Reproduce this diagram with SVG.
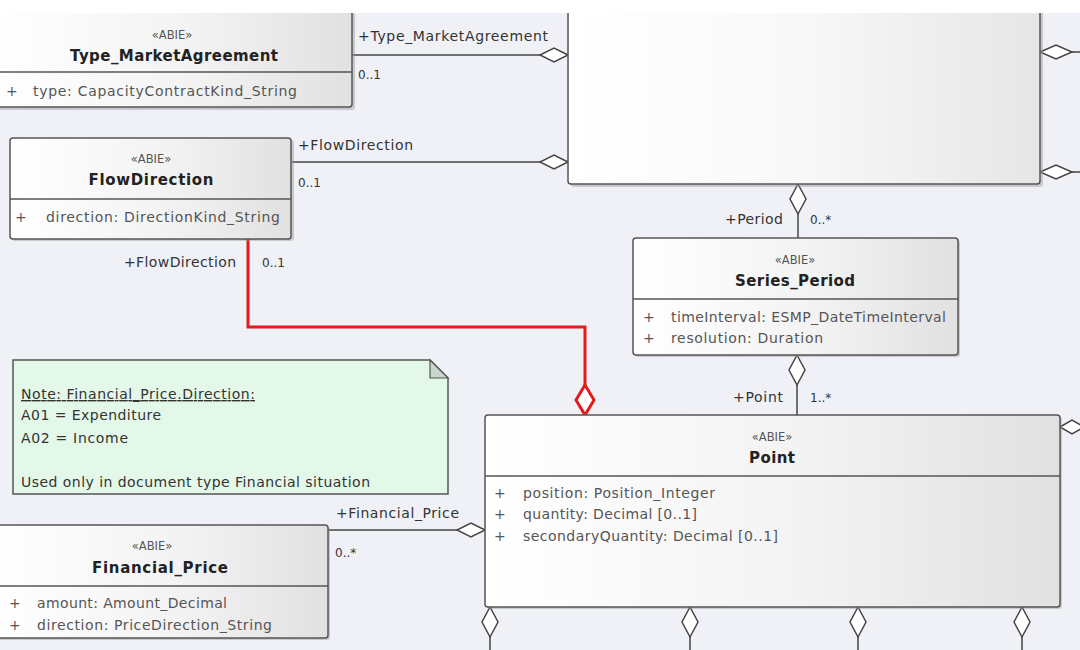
<svg xmlns="http://www.w3.org/2000/svg" width="1080" height="650" viewBox="0 0 1080 650">
<defs>
<linearGradient id="hdr" x1="0" y1="0" x2="1" y2="0">
<stop offset="0" stop-color="#FFFFFF"/>
<stop offset="0.55" stop-color="#F3F3F3"/>
<stop offset="1" stop-color="#E1E1E1"/>
</linearGradient>
<linearGradient id="big" x1="0" y1="0" x2="1" y2="0">
<stop offset="0" stop-color="#FFFFFF"/>
<stop offset="0.5" stop-color="#F8F8F8"/>
<stop offset="1" stop-color="#E6E6E6"/>
</linearGradient>
<style>
.bg{fill:#EFF1F7}
.box{fill:url(#hdr);stroke:#555;stroke-width:1.5}
.shadow{fill:#9a9a9a;opacity:0.45}
.div{stroke:#555;stroke-width:1.5}
.st{font-family:"DejaVu Sans",Verdana,sans-serif;font-size:11.5px;fill:#555;text-anchor:middle}
.nm{font-family:"DejaVu Sans",Verdana,sans-serif;font-size:15px;font-weight:bold;fill:#222;text-anchor:middle}
.at{font-family:"DejaVu Sans",Verdana,sans-serif;font-size:14px;fill:#555}
.lb{font-family:"DejaVu Sans",Verdana,sans-serif;font-size:14px;fill:#333}
.mu{font-family:"DejaVu Sans",Verdana,sans-serif;font-size:12px;fill:#333}
.nt{font-family:"DejaVu Sans",Verdana,sans-serif;font-size:14px;fill:#333}
.ln{fill:none;stroke:#444;stroke-width:1.5}
.dm{fill:#FFFFFF;stroke:#444;stroke-width:1.5}
.red{fill:none;stroke:#E31B1B;stroke-width:3}
.reddm{fill:#FFFFFF;stroke:#E31B1B;stroke-width:3}
</style>
</defs>
<rect class="bg" x="0" y="0" width="1080" height="650"/>

<g id="connectors">
<path class="ln" d="M352,55 H540"/>
<polygon class="dm" points="568,55 554,48 540,55 554,62"/>
<text class="lb" x="358" y="41" textLength="190">+Type_MarketAgreement</text>
<text class="mu" x="358" y="79">0..1</text>

<path class="ln" d="M292,162 H540"/>
<polygon class="dm" points="568,162 554,155 540,162 554,169"/>
<text class="lb" x="298" y="150" textLength="115">+FlowDirection</text>
<text class="mu" x="298" y="187">0..1</text>

<path class="ln" d="M1072,52 H1080"/>
<polygon class="dm" points="1040,52 1056,45 1072,52 1056,59"/>
<path class="ln" d="M1072,172 H1080"/>
<polygon class="dm" points="1040,172 1056,165 1072,172 1056,179"/>

<path class="ln" d="M798,214 V238"/>
<polygon class="dm" points="798,184 806,199 798,214 790,199"/>
<text class="lb" x="783" y="224" text-anchor="end" textLength="58">+Period</text>
<text class="mu" x="810" y="224">0..*</text>

<path class="ln" d="M797,385 V415"/>
<polygon class="dm" points="797,355 805,370 797,385 789,370"/>
<text class="lb" x="783" y="402" text-anchor="end" textLength="50">+Point</text>
<text class="mu" x="810" y="402">1..*</text>

<path class="red" d="M248,239 V327 H585 V385"/>
<polygon class="reddm" points="585,385 594,400 585,415 576,400"/>
<text class="lb" x="236" y="267" text-anchor="end" textLength="112">+FlowDirection</text>
<text class="mu" x="262" y="267">0..1</text>

<path class="ln" d="M328,530 H457"/>
<polygon class="dm" points="485,530 471,523 457,530 471,537"/>
<text class="lb" x="336" y="518" textLength="123">+Financial_Price</text>
<text class="mu" x="335" y="557">0..*</text>

<polygon class="dm" points="1060,427 1072,420 1084,427 1072,434"/>

<path class="ln" d="M490,637 V650 M690,637 V650 M858,637 V650 M1022,637 V650"/>
<polygon class="dm" points="490,607 498,622 490,637 482,622"/>
<polygon class="dm" points="690,607 698,622 690,637 682,622"/>
<polygon class="dm" points="858,607 866,622 858,637 850,622"/>
<polygon class="dm" points="1022,607 1030,622 1022,637 1014,622"/>
</g>

<g id="node-top-class">
<rect class="shadow" x="571" y="-8" width="472" height="195" rx="3"/>
<rect x="568" y="-10" width="472" height="194" rx="3" fill="url(#big)" stroke="#555" stroke-width="1.5"/>
</g>

<g id="node-type-marketagreement">
<rect class="shadow" x="-6" y="12" width="361" height="98" rx="3"/>
<rect class="box" x="-8" y="10" width="360" height="97" rx="3"/>
<line class="div" x1="-8" y1="72" x2="352" y2="72"/>
<text class="st" x="172" y="39">«ABIE»</text>
<text class="nm" x="174" y="61" textLength="208">Type_MarketAgreement</text>
<text class="at" x="6" y="96">+</text>
<text class="at" x="33" y="96" textLength="264">type: CapacityContractKind_String</text>
</g>

<g id="node-flowdirection">
<rect class="shadow" x="12" y="140" width="282" height="101" rx="3"/>
<rect class="box" x="10" y="138" width="281" height="101" rx="3"/>
<line class="div" x1="10" y1="199" x2="291" y2="199"/>
<text class="st" x="151" y="163">«ABIE»</text>
<text class="nm" x="151" y="185" textLength="125">FlowDirection</text>
<text class="at" x="15" y="222">+</text>
<text class="at" x="46" y="222" textLength="234">direction: DirectionKind_String</text>
</g>

<g id="node-series-period">
<rect class="shadow" x="635" y="240" width="325" height="117" rx="3"/>
<rect class="box" x="633" y="238" width="325" height="117" rx="3"/>
<line class="div" x1="633" y1="299" x2="958" y2="299"/>
<text class="st" x="795" y="264">«ABIE»</text>
<text class="nm" x="795" y="286" textLength="120">Series_Period</text>
<text class="at" x="643" y="322">+</text>
<text class="at" x="671" y="322" textLength="275">timeInterval: ESMP_DateTimeInterval</text>
<text class="at" x="643" y="343">+</text>
<text class="at" x="671" y="343" textLength="152">resolution: Duration</text>
</g>

<g id="node-note">
<path d="M13,360 H430 L448,378 V494 H13 Z" fill="#E4F8EA" stroke="#555" stroke-width="1.5"/>
<path d="M430,360 V378 H448 Z" fill="#C9D6CE" stroke="#555" stroke-width="1.2"/>
<text class="nt" x="21" y="399" textLength="234" text-decoration="underline">Note: Financial_Price.Direction:</text>
<text class="nt" x="21" y="420" textLength="140">A01 = Expenditure</text>
<text class="nt" x="21" y="443" textLength="107">A02 = Income</text>
<text class="nt" x="21" y="487" textLength="349">Used only in document type Financial situation</text>
</g>

<g id="node-point">
<rect class="shadow" x="487" y="417" width="575" height="192" rx="3"/>
<rect class="box" x="485" y="415" width="575" height="192" rx="3"/>
<line class="div" x1="485" y1="476" x2="1060" y2="476"/>
<text class="st" x="772" y="441">«ABIE»</text>
<text class="nm" x="772" y="463" textLength="46">Point</text>
<text class="at" x="494" y="498">+</text>
<text class="at" x="523" y="498" textLength="192">position: Position_Integer</text>
<text class="at" x="494" y="519">+</text>
<text class="at" x="523" y="519" textLength="174">quantity: Decimal [0..1]</text>
<text class="at" x="494" y="541">+</text>
<text class="at" x="523" y="541" textLength="255">secondaryQuantity: Decimal [0..1]</text>
</g>

<g id="node-financial-price">
<rect class="shadow" x="-6" y="527" width="336" height="113" rx="3"/>
<rect class="box" x="-8" y="525" width="336" height="113" rx="3"/>
<line class="div" x1="-8" y1="586" x2="328" y2="586"/>
<text class="st" x="152" y="550">«ABIE»</text>
<text class="nm" x="160" y="573" textLength="136">Financial_Price</text>
<text class="at" x="9" y="608">+</text>
<text class="at" x="37" y="608" textLength="190">amount: Amount_Decimal</text>
<text class="at" x="9" y="630">+</text>
<text class="at" x="37" y="630" textLength="235">direction: PriceDirection_String</text>
</g>

<rect x="0" y="0" width="1080" height="13" fill="#FFFFFF"/>
</svg>
